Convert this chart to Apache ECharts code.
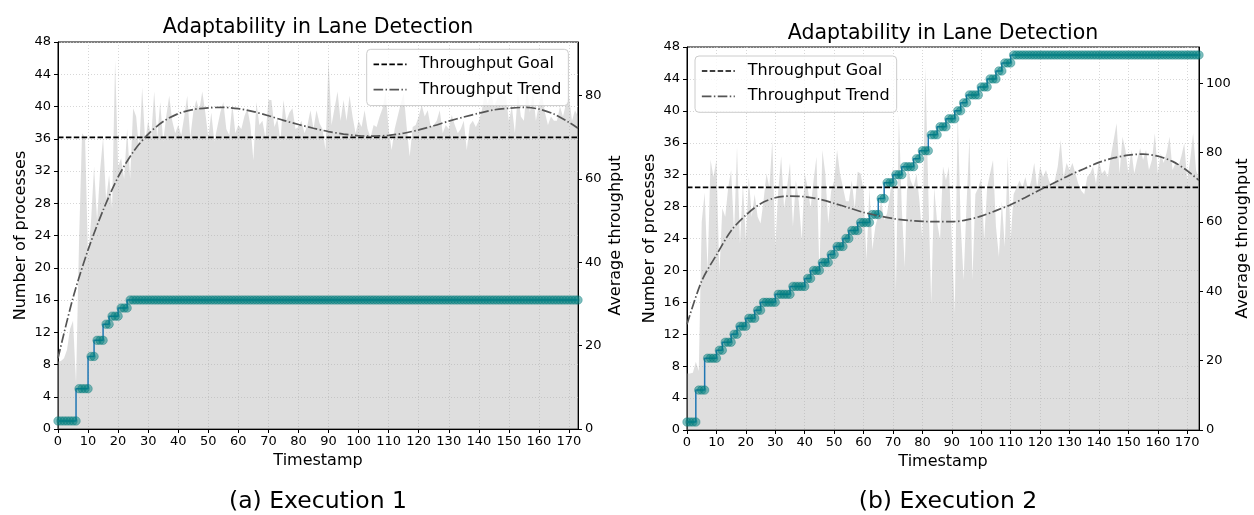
<!DOCTYPE html>
<html><head><meta charset="utf-8">
<script src="https://cdn.jsdelivr.net/npm/echarts@6/dist/echarts.min.js"></script>
<style>html,body{margin:0;padding:0;background:#fff}#c{width:1254px;height:515px}</style>
</head><body><div id="c"></div>
<script>
// ---------- data ----------
const xTicks = [0,10,20,30,40,50,60,70,80,90,100,110,120,130,140,150,160,170];
const leftTicks = [0,4,8,12,16,20,24,28,32,36,40,44,48];
const rightTicksA = [0,20,40,60,80];
const rightTicksB = [0,20,40,60,80,100];
const goalA = 70;
const goalB = 70;

// Execution 1: average throughput per timestamp (0..173)
const thrA = [16.2,16.3,17,19,24,26,11,45,71,70,
 41,50,63,50,62,70,55,61,53,88.5,
 63,65,60,72,60,77,75,67,82,69,
 74,70,81,70,78.5,69,75,80,74,71,
 73,70.5,75,80,70,76,79,76.5,81,76,
 70,76,69,72.5,76,78.5,72,70.5,78,71,
 73,72,75,77,73,64.5,78.5,73,74,70,
 79,79,72.5,74.5,69,79,74,76,77,72,
 72.5,74,71,73,76.5,72,76.5,73.4,72,67,
 88.6,73,77,81,74,79,74,80,75,71,
 74,72.5,76.5,72,70,73,72.5,75,77,81,
 72,67,72,75,78,80.6,72.5,65.4,72.5,73,
 75,77.8,75,76.5,72.5,73,74,76.5,71,73,
 72,75.4,73,71,72,74,67,73,74,72.5,
 74,76.5,80.6,78,81.4,77.4,79,81,80,80,
 74,77.4,71,80.6,75,74,82,76,81,74,
 78,80.6,76,73,75,74,74,77.4,75,78,
 80,74,76.5,75];
// Execution 1: number of processes per timestamp (0..173)
const procA = [1,1,1,1,1,1,1,5,5,5,5,9,9,11,11,11,13,13,14,14,14,15,15,15,
 16,16,16,16,16,16,16,16,16,16,16,16,16,16,16,16,16,16,16,16,16,16,16,16,16,
 16,16,16,16,16,16,16,16,16,16,16,16,16,16,16,16,16,16,16,16,16,16,16,16,16,
 16,16,16,16,16,16,16,16,16,16,16,16,16,16,16,16,16,16,16,16,16,16,16,16,16,
 16,16,16,16,16,16,16,16,16,16,16,16,16,16,16,16,16,16,16,16,16,16,16,16,16,
 16,16,16,16,16,16,16,16,16,16,16,16,16,16,16,16,16,16,16,16,16,16,16,16,16,
 16,16,16,16,16,16,16,16,16,16,16,16,16,16,16,16,16,16,16,16,16,16,16,16,16];
const trendTimesA = [0,5,10,15,20,25,30,35,40,45,50,55,60,65,70,75,80,85,90,95,100,105,110,115,120,125,130,135,140,145,150,155,160,165,170,173];
const trendA = [17,31.5,43,52.5,60.5,66.5,70.8,73.8,75.7,76.7,77.1,77.2,76.9,76.2,75.2,74.1,73.1,72.2,71.4,70.8,70.4,70.3,70.5,71,71.8,72.8,73.9,74.9,75.8,76.6,77,77.2,76.8,75.6,73.6,72.2];

// Execution 2: average throughput per timestamp (0..174)
const thrB = [16.3,16.3,16.5,19.7,17,60,68.5,46,78,73,
 78,45,64,61.5,70,75,56.7,81.7,53.8,71,
 54.8,73,61.5,68,61.5,59.6,66,74,70,83.7,
 52.9,69,79,64,70,77,58.7,72,66,54.8,
 74,70,64,72,78.8,45,80.8,74,59.6,69,
 72,80.8,74,70,66,66,72,64,74.5,74,
 69,49,70,52,58.7,62,66,60.6,62.5,68,
 76,40,90.9,64,47,76,72,70,74,66,
 54.8,104.8,69,36.5,70,60,54.8,76,72,76,
 54.8,33.7,92.3,59.6,43.3,65,84.6,43.3,68,70,
 72.6,54.8,70,74,77.9,58.7,50,66,52.9,78.8,
 54.8,68,70,72,70,73,69,72,77,70,
 76,73,75,72,70,72,76,83.7,73,77,
 75,77,74,71,69,68,73,74,76,71,
 77.9,74,75,73,78.8,83.7,88.5,74,84.6,80.8,
 74,80.8,74,78,81.3,77.9,80.8,75,77.9,85.6,
 74,79.8,77,80,84.6,75,77,76,79,82.7,
 72,78,85.6,75,72];
// Execution 2: number of processes per timestamp (0..174)
const procB = [1,1,1,1,5,5,5,9,9,9,9,10,10,11,11,11,12,12,13,13,13,14,14,14,15,15,
 16,16,16,16,16,17,17,17,17,17,18,18,18,18,18,19,19,20,20,20,21,21,21,22,22,
 23,23,23,24,24,25,25,25,26,26,26,26,27,27,27,29,29,31,31,31,32,32,32,
 33,33,33,33,34,34,35,35,35,37,37,37,38,38,38,39,39,39,40,40,41,41,
 42,42,42,42,43,43,43,44,44,44,45,45,46,46,46,
 47,47,47,47,47,47,47,47,47,47,47,47,47,47,47,47,
 47,47,47,47,47,47,47,47,47,47,47,47,47,47,47,47,
 47,47,47,47,47,47,47,47,47,47,47,47,47,47,47,47,
 47,47,47,47,47,47,47,47,47,47,47,47,47,47,47,47];
const trendTimesB = [0,5,10,15,20,25,30,35,40,45,50,55,60,65,70,75,80,85,90,95,100,105,110,115,120,125,130,135,140,145,150,155,160,165,170,174];
const trendB = [30.5,43,50.5,57.5,62,65.3,67,67.5,67.3,66.6,65.4,64.1,62.8,61.8,61,60.5,60.2,60.1,60.1,60.6,61.7,63.3,65,67.1,69.3,71.4,73.5,75.4,77.2,78.5,79.3,79.6,79,77.5,74.8,72];

// ---------- build ----------
const FONT = 'DejaVu Sans';
const pairs = (arr) => arr.map((v, i) => [i, v]);
const zipT = (t, v) => t.map((x, i) => [x, v[i]]);
const xMaxA = thrA.length - 1;
const xMaxB = thrB.length - 1;
const GRIDLINE = {color: '#cdcdcd', type: [1, 2], width: 0.8};

function xAxis(gi, max) {
  return {
    type: 'value', gridIndex: gi, min: 0, max: max, interval: 10,
    name: 'Timestamp', nameLocation: 'middle', nameGap: 24,
    nameTextStyle: {fontFamily: FONT, fontSize: 16, color: '#000'},
    axisLine: {show: true, lineStyle: {color: '#000', width: 1}},
    axisTick: {show: true, length: 4, lineStyle: {color: '#000'}, customValues: xTicks},
    axisLabel: {fontFamily: FONT, fontSize: 13, color: '#000', margin: 6, customValues: xTicks},
    splitLine: {show: true, lineStyle: GRIDLINE}
  };
}
function yLeft(gi) {
  return {
    type: 'value', gridIndex: gi, position: 'left', min: 0, max: 48, interval: 4,
    name: 'Number of processes', nameLocation: 'middle', nameRotate: 90, nameGap: 29,
    nameTextStyle: {fontFamily: FONT, fontSize: 16, color: '#000'},
    axisLine: {show: true, lineStyle: {color: '#000', width: 1}},
    axisTick: {show: true, length: 4, lineStyle: {color: '#000'}, customValues: leftTicks},
    axisLabel: {fontFamily: FONT, fontSize: 13, color: '#000', margin: 7, customValues: leftTicks},
    splitLine: {show: true, lineStyle: GRIDLINE}
  };
}
function yRight(gi, max, ticks) {
  return {
    type: 'value', gridIndex: gi, position: 'right', min: 0, max: max,
    name: 'Average throughput', nameLocation: 'middle', nameRotate: 90, nameGap: 30,
    nameTextStyle: {fontFamily: FONT, fontSize: 16, color: '#000'},
    axisLine: {show: true, lineStyle: {color: '#000', width: 1}},
    axisTick: {show: true, length: 4, lineStyle: {color: '#000'}, customValues: ticks},
    axisLabel: {fontFamily: FONT, fontSize: 13, color: '#000', margin: 7, customValues: ticks},
    splitLine: {show: false}
  };
}
function seriesFor(xi, yl, yr, thr, proc, tt, tr, goal, xmax) {
  return [
    {name: 'Average throughput', type: 'line', xAxisIndex: xi, yAxisIndex: yr, data: pairs(thr),
     symbol: 'none', lineStyle: {width: 0}, areaStyle: {color: 'rgb(168,168,168)', opacity: 0.38, origin: 'start'},
     z: 1, silent: true},
    {name: 'Processes', type: 'line', xAxisIndex: xi, yAxisIndex: yl, data: pairs(proc),
     step: 'start', symbol: 'circle', symbolSize: 8.5, showSymbol: true, showAllSymbol: true,
     lineStyle: {color: '#1f77b4', width: 1.5},
     itemStyle: {color: 'rgba(0,128,128,0.5)', borderColor: 'rgba(0,118,118,0.35)', borderWidth: 1},
     z: 3, silent: true},
    {name: 'Throughput Goal', type: 'line', xAxisIndex: xi, yAxisIndex: yr,
     data: [[0, goal], [xmax, goal]], symbol: 'none',
     lineStyle: {color: '#000', width: 1.7, type: [5.5, 2.4]}, z: 4, silent: true},
    {name: 'Throughput Trend', type: 'line', xAxisIndex: xi, yAxisIndex: yr,
     data: zipT(tt, tr), symbol: 'none', smooth: 0.3,
     lineStyle: {color: '#555555', width: 1.7, type: [9.6, 2.4, 1.5, 2.4]}, z: 4, silent: true}
  ];
}
function legend(left, top) {
  return {
    data: ['Throughput Goal', 'Throughput Trend'], orient: 'vertical', left: left, top: top,
    itemWidth: 33, itemHeight: 14, itemGap: 9.3, padding: [7, 7, 8, 6],
    backgroundColor: 'rgba(255,255,255,0.8)', borderColor: '#cccccc', borderWidth: 1, borderRadius: 4,
    selectedMode: false, lineStyle: {width: 1.7},
    itemStyle: {color: 'rgba(0,0,0,0)', borderColor: 'rgba(0,0,0,0)', borderWidth: 0},
    textStyle: {fontFamily: FONT, fontSize: 16, color: '#000', padding: [0, 0, 0, 8]}
  };
}
function title(text, x, top, size) {
  return {text: text, left: x, top: top, textAlign: 'center', padding: 0,
    textStyle: {fontFamily: FONT, fontSize: size, fontWeight: 'normal', color: '#000'}};
}

const option = {
  animation: false,
  backgroundColor: '#fff',
  title: [
    title('Adaptability in Lane Detection', 318, 17, 20.5),
    title('Adaptability in Lane Detection', 943, 23, 20.5),
    title('(a) Execution 1', 318, 490, 23.5),
    title('(b) Execution 2', 948, 490, 23.5)
  ],
  legend: [legend(366.7, 49.3), legend(695, 56)],
  grid: [
    {left: 58, top: 42, width: 520, height: 387, show: true, borderColor: '#000', borderWidth: 1, containLabel: false},
    {left: 687, top: 47, width: 512, height: 383, show: true, borderColor: '#000', borderWidth: 1, containLabel: false}
  ],
  xAxis: [xAxis(0, xMaxA), xAxis(1, xMaxB)],
  yAxis: [yLeft(0), yRight(0, 92.9, rightTicksA), yLeft(1), yRight(1, 110.5, rightTicksB)],
  series: [].concat(
    seriesFor(0, 0, 1, thrA, procA, trendTimesA, trendA, goalA, xMaxA),
    seriesFor(1, 2, 3, thrB, procB, trendTimesB, trendB, goalB, xMaxB)
  )
};
const chart = echarts.init(document.getElementById('c'), null, {renderer: 'canvas'});
chart.setOption(option);
</script>
</body></html>
